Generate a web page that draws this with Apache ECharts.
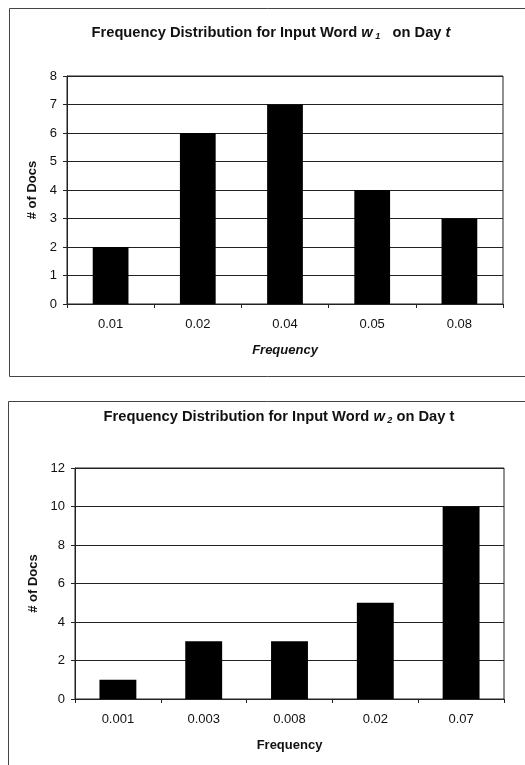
<!DOCTYPE html>
<html>
<head>
<meta charset="utf-8">
<script src="https://cdn.jsdelivr.net/npm/echarts@6/dist/echarts.min.js"></script>
<style>
  html, body { margin: 0; padding: 0; background: #fff; }
  #chart { width: 525px; height: 765px; }
</style>
</head>
<body>
<div id="chart"></div>
<script>
// Word w1: frequency buckets and document counts
const freqW1 = ['0.01', '0.02', '0.04', '0.05', '0.08'];
const docsW1 = [2, 6, 7, 4, 3];
const ticksW1 = { min: 0, max: 8, interval: 1 };

// Word w2: frequency buckets and document counts
const freqW2 = ['0.001', '0.003', '0.008', '0.02', '0.07'];
const docsW2 = [1, 3, 3, 5, 10];
const ticksW2 = { min: 0, max: 12, interval: 2 };

const FONT = '"Liberation Sans", Arial, sans-serif';
const INK = '#111';
const LINE = '#222';

const titleRich = {
  a: { fontFamily: FONT, fontSize: 14.7, fontWeight: 'bold', color: INK },
  w: { fontFamily: FONT, fontSize: 14.7, fontWeight: 'bold', fontStyle: 'italic', color: INK },
  s: { fontFamily: FONT, fontSize: 9, fontWeight: 'bold', fontStyle: 'italic', color: INK, padding: [8, 0, 0, 0] }
};

function xAxisFor(gridIndex, cats, italicName) {
  return {
    type: 'category', gridIndex, data: cats,
    boundaryGap: true,
    name: 'Frequency', nameLocation: 'middle', nameGap: 40,
    nameTextStyle: { fontFamily: FONT, fontSize: 13, fontWeight: 'bold', fontStyle: italicName ? 'italic' : 'normal', color: INK },
    axisLine: { lineStyle: { color: LINE, width: 1 } },
    axisTick: { show: true, length: 4, alignWithLabel: false, lineStyle: { color: LINE } },
    axisLabel: { fontFamily: FONT, fontSize: 13, color: INK, margin: 14 },
    splitLine: { show: false }
  };
}

function yAxisFor(gridIndex, t, gap) {
  return {
    type: 'value', gridIndex, min: t.min, max: t.max, interval: t.interval,
    name: '# of Docs', nameLocation: 'middle', nameGap: gap, nameRotate: 90,
    nameTextStyle: { fontFamily: FONT, fontSize: 13, fontWeight: 'bold', color: INK },
    axisLine: { show: true, lineStyle: { color: LINE, width: 1 } },
    axisTick: { show: true, length: 4, lineStyle: { color: LINE } },
    axisLabel: { fontFamily: FONT, fontSize: 13, color: INK, margin: 10 },
    splitLine: { show: true, lineStyle: { color: LINE, width: 1 } }
  };
}

const chart = echarts.init(document.getElementById('chart'), null, { renderer: 'canvas' });

chart.setOption({
  animation: false,
  backgroundColor: '#fff',
  title: [
    {
      text: '{a|Frequency Distribution for Input Word }{w|w}{s| 1}{a|   on Day }{w|t}',
      left: 266, top: 19, textAlign: 'center',
      textStyle: { rich: titleRich }
    },
    {
      text: '{a|Frequency Distribution for Input Word }{w|w}{s| 2}{a| on Day t}',
      left: 274, top: 403, textAlign: 'center',
      textStyle: { rich: titleRich }
    }
  ],
  graphic: [
    // panel frames
    { type: 'rect', shape: { x: 9.5, y: 8.5, width: 530, height: 368 }, style: { fill: 'none', stroke: '#444', lineWidth: 1 }, silent: true },
    { type: 'rect', shape: { x: 8.5, y: 401.5, width: 530, height: 380 }, style: { fill: 'none', stroke: '#444', lineWidth: 1 }, silent: true }
  ],
  grid: [
    { left: 67, right: 22, top: 76, bottom: 461, show: true, borderColor: LINE, borderWidth: 1, backgroundColor: 'transparent' },
    { left: 75, right: 21, top: 468, bottom: 66, show: true, borderColor: LINE, borderWidth: 1, backgroundColor: 'transparent' }
  ],
  xAxis: [xAxisFor(0, freqW1, true), xAxisFor(1, freqW2, false)],
  yAxis: [yAxisFor(0, ticksW1, 27), yAxisFor(1, ticksW2, 35)],
  series: [
    { type: 'bar', xAxisIndex: 0, yAxisIndex: 0, data: docsW1, barWidth: '41%', itemStyle: { color: '#000' } },
    { type: 'bar', xAxisIndex: 1, yAxisIndex: 1, data: docsW2, barWidth: '43%', itemStyle: { color: '#000' } }
  ]
});
</script>
</body>
</html>
